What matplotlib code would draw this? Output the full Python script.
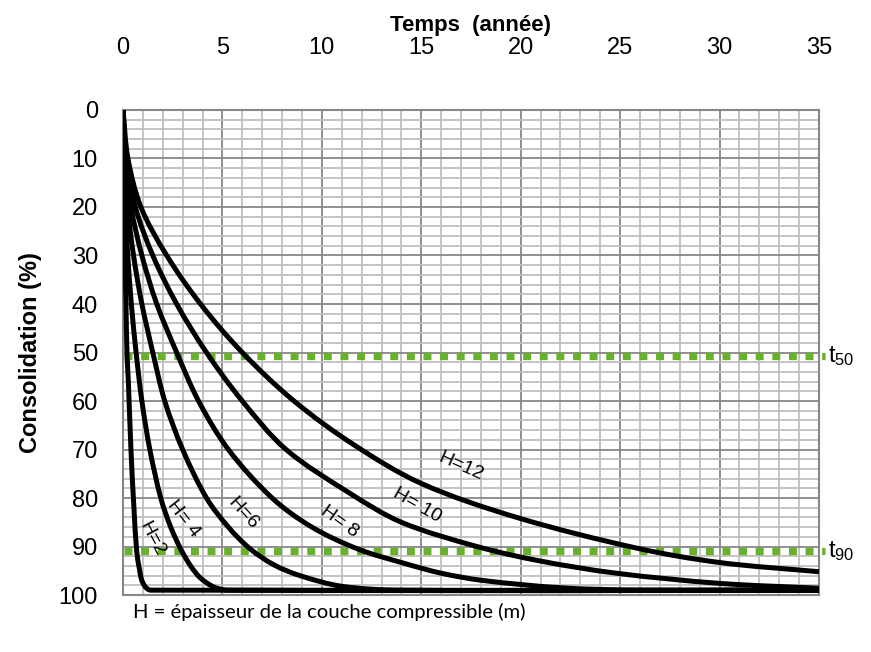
import numpy as np
import matplotlib
matplotlib.use('Agg')
import matplotlib.pyplot as plt
from matplotlib.path import Path
from matplotlib.patches import PathPatch

plt.rcParams['font.family'] = ['Liberation Sans', 'DejaVu Sans']

# curves: (time in years, consolidation in %)
t_h2 = [0, 0.03, 0.06, 0.1, 0.15, 0.2, 0.27, 0.4, 0.55, 0.69, 0.82, 0.94, 1.1, 1.25, 1.4, 35]
u_h2 = [0, 10, 20, 30, 40, 50, 56, 70, 82, 91, 94.5, 96.9, 98.2, 98.8, 99, 99]

t_h4 = [0, 0.03, 0.1, 0.24, 0.42, 0.66, 0.95, 1.35, 1.9, 2.4, 2.9, 3.4, 3.9, 4.6, 5.3, 35]
u_h4 = [0, 10, 20, 30, 40, 50, 60, 70, 80, 86, 90.5, 94, 96.5, 98.4, 99, 99]

t_h6 = [0, 0.06, 0.23, 0.53, 0.95, 1.5, 2.1, 3.0, 4.2, 5.3, 6.4, 7.6, 8.9, 11, 14, 35]
u_h6 = [0, 10, 20, 30, 40, 50, 60, 70, 80, 86, 90.5, 93.8, 96, 98.2, 99, 99]

t_h8 = [0, 0.11, 0.4, 0.95, 1.7, 2.7, 3.8, 5.3, 7.5, 9.5, 11.8, 14, 16, 18.1, 22, 26, 35]
u_h8 = [0, 10, 20, 30, 40, 50, 60, 70, 80, 86, 90.5, 93.3, 95.5, 97, 98.5, 99, 99]

t_h10 = [0, 0.17, 0.62, 1.5, 2.7, 4.2, 6.0, 8.2, 11.4, 14, 17.8, 21, 24.8, 30, 35]
u_h10 = [0, 10, 20, 30, 40, 50, 60, 70, 79, 85, 90, 93, 95.5, 97.6, 98.6]

t_h12 = [0, 0.25, 0.9, 2.2, 3.9, 6.0, 8.6, 11.6, 15, 19.8, 25.8, 30, 35]
u_h12 = [0, 10, 20, 30, 40, 50, 60, 69, 77, 84, 90.3, 93.3, 95.2]

curves = [
    (t_h2, u_h2), (t_h4, u_h4), (t_h6, u_h6),
    (t_h8, u_h8), (t_h10, u_h10), (t_h12, u_h12),
]

# curve labels: text, anchor (t, U), rotation
label_text = ['H=2', 'H= 4', 'H=6', 'H= 8', 'H= 10', 'H=12']
label_t = [1.45, 3.05, 6.05, 10.9, 14.8, 17.0]
label_u = [88.5, 84.3, 83.2, 84.8, 81.6, 73.6]
label_rot = [-62, -52, -48, -36, -30, -24]

u_t50 = 50.8
u_t90 = 91.0


def smooth_line(ax, t, u, **kw):
    # smoothed line like a spreadsheet "smoothed line": bezier through the points
    pts = ax.transData.transform(np.column_stack([t, u]))
    n = len(pts)
    tang = np.zeros_like(pts)
    for i in range(n):
        d = pts[min(i + 1, n - 1)] - pts[max(i - 1, 0)]
        tang[i] = d / np.hypot(*d)
    verts = [pts[0]]
    codes = [Path.MOVETO]
    for i in range(n - 1):
        L = np.hypot(*(pts[i + 1] - pts[i]))
        verts += [pts[i] + tang[i] * L / 3, pts[i + 1] - tang[i + 1] * L / 3, pts[i + 1]]
        codes += [Path.CURVE4] * 3
    verts = ax.transData.inverted().transform(np.array(verts))
    ax.add_patch(PathPatch(Path(verts, codes), fill=False, **kw))


fig = plt.figure(figsize=(8.71, 6.52), dpi=100)
ax = fig.add_axes([0.1412, 0.0874, 0.7991, 0.7439])

ax.set_xlim(0, 35)
ax.set_ylim(100, 0)

ax.set_xticks(np.arange(0, 36, 5))
ax.set_xticks(np.arange(0, 36, 1), minor=True)
ax.set_yticks(np.arange(0, 101, 10))
ax.set_yticks(np.arange(0, 101, 2), minor=True)

ax.grid(which='minor', color='#bfbfbf', linewidth=1.3, zorder=0)
ax.grid(which='major', color='#878787', linewidth=1.3, zorder=0)
ax.set_axisbelow(True)

ax.xaxis.tick_top()
ax.xaxis.set_label_position('top')
ax.tick_params(which='both', length=0)
ax.tick_params(axis='x', labelsize=17, pad=37)
ax.tick_params(axis='y', labelsize=17, pad=18)

for s in ax.spines.values():
    s.set_color('#878787')
    s.set_linewidth(1.5)

ax.set_xlabel('Temps  (année)', fontsize=16, fontweight='bold', labelpad=4)
ax.set_ylabel('Consolidation (%)', fontsize=17, fontweight='bold', labelpad=12)

for t, u in curves:
    smooth_line(ax, t, u, edgecolor='black', linewidth=3.6, joinstyle='round',
                capstyle='butt', zorder=3)

for txt, lt, lu, r in zip(label_text, label_t, label_u, label_rot):
    ax.text(lt, lu, txt, rotation=r, fontsize=14, ha='center', va='center',
            rotation_mode='anchor', zorder=4)

green = '#66b22a'
for u in (u_t50, u_t90):
    ax.plot([0.05, 35.3], [u, u], color=green, linewidth=5.2,
            linestyle=(0, (1.1, 1.2)), dash_capstyle='butt', clip_on=False, zorder=2)

ax.text(35.45, u_t50, r'$\mathregular{t_{50}}$', fontsize=17, va='center', ha='left')
ax.text(35.45, u_t90, r'$\mathregular{t_{90}}$', fontsize=17, va='center', ha='left')

fig.text(0.153, 0.076, 'H = épaisseur de la couche compressible (m)',
         fontsize=14.6, family=['Lato', 'DejaVu Sans'], va='top', ha='left')

fig.savefig('out.png', dpi=100)
